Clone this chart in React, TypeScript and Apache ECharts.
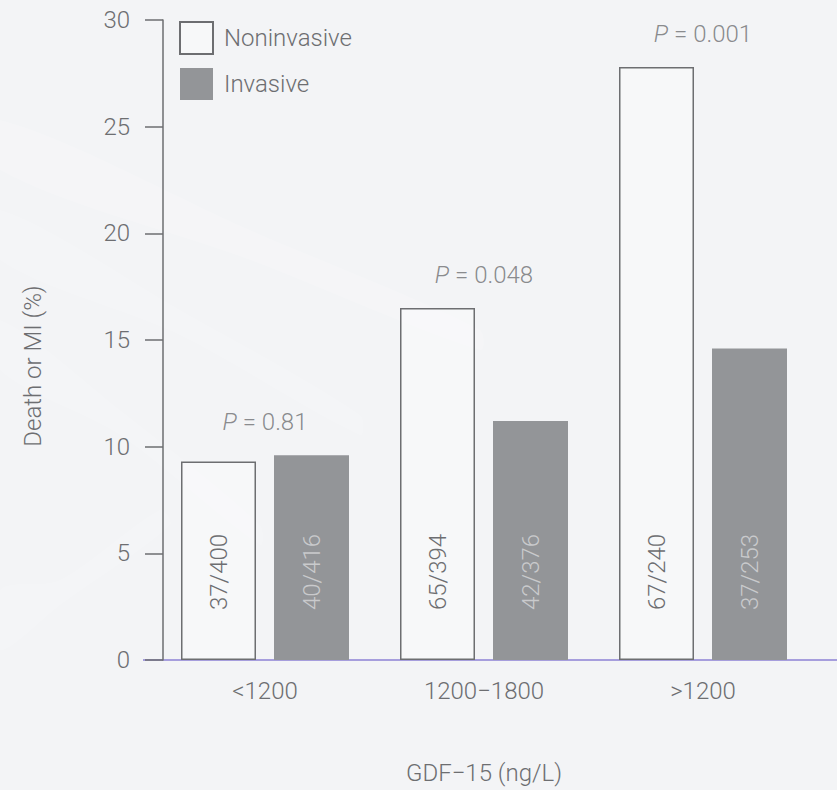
import React, { useEffect, useRef } from "react";
import * as echarts from "echarts";

const categories = ["<1200", "1200\u22121800", ">1200"];
const seriesNames = ["Noninvasive", "Invasive"];
const noninvasive = [9.3, 16.5, 27.8];
const invasive = [9.6, 11.2, 14.6];
const noninvasiveCounts = ["37/400", "65/394", "67/240"];
const invasiveCounts = ["40/416", "42/376", "37/253"];
const pValues = ["0.81", "0.048", "0.001"];
const yTicks = { min: 0, max: 30, interval: 5 };

const TXT = "#6d6e71";
const FONT = "Roboto, 'Liberation Sans', sans-serif";

export default function App() {
  const ref = useRef<HTMLDivElement>(null);
  useEffect(() => {
    if (!ref.current) return;
    const chart = echarts.init(ref.current, null, { renderer: "svg" });
    const pData = categories.map((c, i) => ({
      value: [c, Math.max(noninvasive[i], invasive[i])],
      p: pValues[i],
    }));
    const streak = (pts: number[][], op: number) => ({
      type: "polygon",
      z: -10,
      silent: true,
      shape: { points: pts, smooth: 0.3 },
      style: { fill: "#ffffff", opacity: op },
    });
    chart.setOption({
      animation: false,
      backgroundColor: "#f3f4f6",
      textStyle: { fontFamily: FONT, fontWeight: 300 },
      grid: { left: 155.5, right: 24.5, top: 20, bottom: 130 },
      legend: {
        data: seriesNames,
        orient: "vertical",
        left: 179,
        top: 21,
        padding: 0,
        icon: "rect",
        itemWidth: 33,
        itemHeight: 32,
        itemGap: 13,
        textStyle: { fontSize: 24, color: TXT, fontFamily: FONT, fontWeight: 300, padding: [0, 0, 0, 6] },
      },
      graphic: [
        streak([[0, 120], [0, 170], [250, 260], [480, 350], [480, 330], [250, 230]], 0.16),
        streak([[0, 210], [0, 260], [180, 335], [360, 435], [360, 415], [180, 310]], 0.14),
        streak([[0, 320], [0, 370], [120, 435], [260, 545], [260, 525], [120, 410]], 0.12),
        streak([[0, 590], [0, 650], [60, 605], [170, 525], [160, 510], [60, 580]], 0.14),
        {
          type: "line",
          z: 0,
          shape: { x1: 143, y1: 660, x2: 837, y2: 660 },
          style: { stroke: "#8c82d4", lineWidth: 1.5 },
        },
        {
          type: "text",
          x: 33,
          y: 366,
          rotation: Math.PI / 2,
          style: {
            text: "Death or MI (%)",
            fontSize: 24,
            fontFamily: FONT,
            fontWeight: 300,
            fill: TXT,
            align: "center",
            verticalAlign: "middle",
          },
        },
      ],
      xAxis: {
        type: "category",
        data: categories,
        axisLine: { show: false },
        axisTick: { show: false },
        axisLabel: { fontSize: 24, color: TXT, margin: 19, fontFamily: FONT, fontWeight: 300 },
        name: "GDF\u221215 (ng/L)",
        nameLocation: "middle",
        nameGap: 101,
        nameTextStyle: { fontSize: 24, color: TXT, fontFamily: FONT, fontWeight: 300 },
      },
      yAxis: {
        type: "value",
        min: yTicks.min,
        max: yTicks.max,
        interval: yTicks.interval,
        offset: -7.5,
        splitLine: { show: false },
        axisLine: { show: true, lineStyle: { color: TXT, width: 1.5 } },
        axisTick: { show: true, length: 18, lineStyle: { color: TXT, width: 1.5 } },
        axisLabel: { fontSize: 24, color: TXT, margin: 33, fontFamily: FONT, fontWeight: 300 },
      },
      series: [
        {
          name: seriesNames[0],
          type: "bar",
          data: noninvasive,
          barWidth: 75,
          barGap: "24%",
          itemStyle: { color: "rgba(255,255,255,0.35)", borderColor: TXT, borderWidth: 1.5 },
          label: {
            show: true,
            position: "insideBottom",
            rotate: 90,
            align: "left",
            verticalAlign: "middle",
            distance: 50,
            fontSize: 24,
            color: TXT,
            fontFamily: FONT,
            fontWeight: 300,
            formatter: (p: any) => noninvasiveCounts[p.dataIndex],
          },
        },
        {
          name: seriesNames[1],
          type: "bar",
          data: invasive,
          barWidth: 75,
          barGap: "24%",
          itemStyle: { color: "#939598" },
          label: {
            show: true,
            position: "insideBottom",
            rotate: 90,
            align: "left",
            verticalAlign: "middle",
            distance: 50,
            fontSize: 24,
            color: "#c9cacc",
            fontFamily: FONT,
            fontWeight: 300,
            formatter: (p: any) => invasiveCounts[p.dataIndex],
          },
        },
        {
          name: "P",
          type: "scatter",
          data: pData,
          symbolSize: 0,
          silent: true,
          label: {
            show: true,
            position: "top",
            distance: 19,
            formatter: (p: any) => "{i|P} = " + p.data.p,
            rich: {
              i: { fontStyle: "italic", fontSize: 24, color: TXT, fontFamily: FONT, fontWeight: 300, lineHeight: 28 },
            },
            fontSize: 24,
            lineHeight: 28,
            color: TXT,
            fontFamily: FONT,
            fontWeight: 300,
          },
        },
      ],
    });
    return () => chart.dispose();
  }, []);
  return (
    <div
      ref={ref}
      style={{ position: "fixed", left: 0, top: 0, width: 837, height: 790 }}
    />
  );
}
